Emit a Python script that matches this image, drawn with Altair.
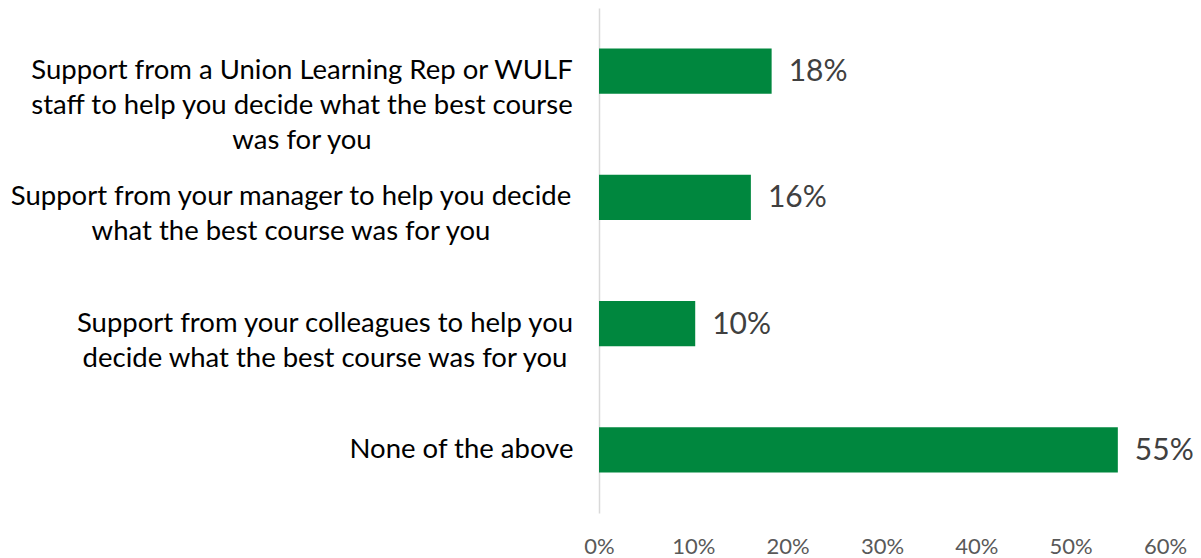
import altair as alt
import pandas as pd

categories = [
    "Support from a Union Learning Rep or WULF\nstaff to help you decide what the best course\nwas for you",
    "Support from your manager to help you decide\nwhat the best course was for you",
    "Support from your colleagues to help you\ndecide what the best course was for you",
    "None of the above",
]
values = [0.183, 0.161, 0.102, 0.550]

# layout: approximate pixel width of each wrapped label block (lines are centred within it)
label_block_width = [540, 562, 494, 221]

df = pd.DataFrame({"cat": categories, "val": values, "bw": label_block_width})

FONT = "Lato"
y_enc = alt.Y("cat:N", sort=categories, title=None,
              scale=alt.Scale(paddingInner=0.64, paddingOuter=0.32),
              axis=alt.Axis(labels=False, ticks=False, domain=True,
                            domainColor="#d9d9d9", domainWidth=1.5, grid=False))
x_enc = alt.X("val:Q", title=None,
              scale=alt.Scale(domain=[0, 0.6], nice=False),
              axis=alt.Axis(format=".0%", values=[0, 0.1, 0.2, 0.3, 0.4, 0.5, 0.6],
                            domain=False, ticks=False, grid=False, labelFlush=False,
                            labelFont=FONT, labelFontSize=22, labelColor="#595959",
                            labelBaseline="middle", labelPadding=33))

base = alt.Chart(df)
bars = base.mark_bar(color="#00873E").encode(x=x_enc, y=y_enc)
vals = base.mark_text(align="left", baseline="middle", dx=17, dy=1, font=FONT,
                      fontSize=30, color="#404040").encode(
    x="val:Q", y=alt.Y("cat:N", sort=categories),
    text=alt.Text("val:Q", format=".0%"))
labels = base.transform_calculate(
    px="-27 - datum.bw / 2"
).mark_text(align="center", baseline="middle", lineBreak="\n",
            font=FONT, fontSize=27.5, color="#000000", lineHeight=35).encode(
    x=alt.X("px:Q", scale=None), y=alt.Y("cat:N", sort=categories), text="cat:N")

chart = alt.layer(bars, vals, labels).properties(
    width=566, height=505,
    background="white",
    autosize=alt.AutoSizeParams(type="none"),
    padding={"left": 591, "top": 0, "right": 28, "bottom": 45},
).configure_view(stroke=None)

chart.save("out.html", embed_options={"renderer": "svg", "actions": False})
